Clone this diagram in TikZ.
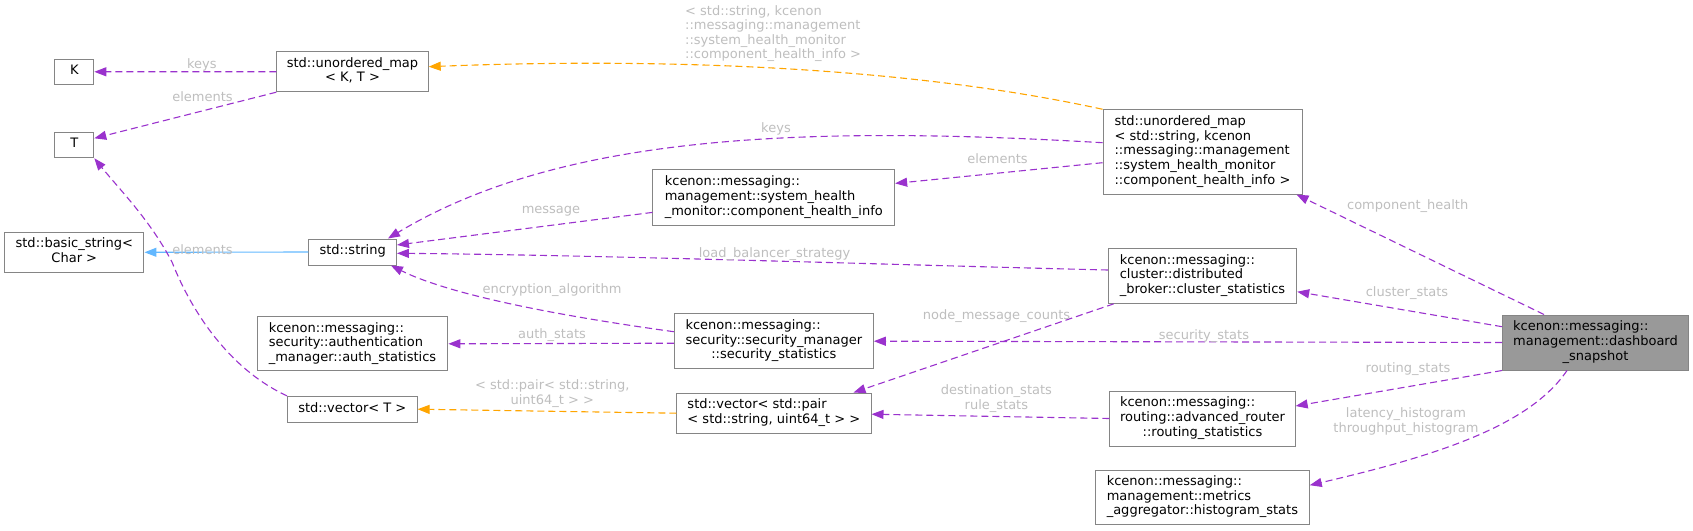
\documentclass[tikz,border=0pt]{standalone}
\usepackage{fontspec}
\setmainfont{DejaVu Sans}
\usetikzlibrary{arrows.meta,calc}
\definecolor{edgepurple}{HTML}{9A32CD}
\definecolor{edgeorange}{HTML}{FFA500}
\definecolor{edgeblue}{HTML}{63B8FF}
\definecolor{boxborder}{HTML}{858585}
\definecolor{lblgray}{HTML}{BEBEBE}
\definecolor{dashfill}{HTML}{999999}
\newcommand\lastline[1]{\multicolumn{1}{@{}c@{}}{#1}}
\newcommand\cls[1]{\begin{tabular}{@{}l@{}}#1\end{tabular}}
\begin{document}
\begin{tikzpicture}[x=1pt,y=-1pt,
  cbox/.style={draw=boxborder, line width=1pt, fill=white, inner sep=0pt,
    font=\fontsize{13}{14.7}\selectfont},
  edge/.style={draw=edgepurple, line width=1.1pt, dash pattern=on 7pt off 4pt,
    -{Triangle[length=12pt,width=9pt]}},
  oedge/.style={edge, draw=edgeorange},
  bedge/.style={draw=edgeblue, line width=1.1pt, solid, -{Triangle[length=12pt,width=9pt]}},
  lbl/.style={text=lblgray, inner sep=0pt, font=\fontsize{13}{14.5}\selectfont},
  slbl/.style={lbl, text height=9.5pt, text depth=0pt}]
\useasboundingbox (0,0) rectangle (1693,530);

% nodes
\node[cbox, minimum width=39pt, minimum height=25pt] (K) at (74.3,71.8) {\cls{K}};
\node[cbox, minimum width=39pt, minimum height=25.5pt] (T) at (74.3,145) {\cls{T}};
\node[cbox, minimum width=151.4pt, minimum height=40pt] (mapKT) at (352.5,71.7) {\cls{std::unordered\_map\\\lastline{< K, T >}}};
\node[cbox, minimum width=139.3pt, minimum height=40pt] (bstr) at (74.3,252.3) {\cls{std::basic\_string<\\\lastline{Char >}}};
\node[cbox, minimum width=87.5pt, minimum height=26pt] (str) at (352.7,252) {\cls{std::string}};
\node[cbox, minimum width=241.7pt, minimum height=55.3pt] (chi) at (773.8,197.4) {\cls{kcenon::messaging::\\management::system\_health\\\lastline{\_monitor::component\_health\_info}}};
\node[cbox, minimum width=199pt, minimum height=84.3pt] (bigmap) at (1202.5,151.9) {\cls{std::unordered\_map\\< std::string, kcenon\\::messaging::management\\::system\_health\_monitor\\\lastline{::component\_health\_info >}}};
\node[cbox, minimum width=188.4pt, minimum height=54.6pt] (cluster) at (1202.5,276) {\cls{kcenon::messaging::\\cluster::distributed\\\lastline{\_broker::cluster\_statistics}}};
\node[cbox, fill=dashfill, minimum width=186pt, minimum height=55pt] (dash) at (1595.5,342.5) {\cls{kcenon::messaging::\\management::dashboard\\\lastline{\_snapshot}}};
\node[cbox, minimum width=190.7pt, minimum height=54.3pt] (auth) at (352.5,343.8) {\cls{kcenon::messaging::\\security::authentication\\\lastline{\_manager::auth\_statistics}}};
\node[cbox, minimum width=199pt, minimum height=55pt] (sec) at (773.8,341.2) {\cls{kcenon::messaging::\\security::security\_manager\\\lastline{::security\_statistics}}};
\node[cbox, minimum width=129.6pt, minimum height=25.7pt] (vecT) at (352.3,409.2) {\cls{std::vector< T >}};
\node[cbox, minimum width=194.2pt, minimum height=40.3pt] (vecp) at (773.9,413.2) {\cls{std::vector< std::pair\\\lastline{< std::string, uint64\_t > >}}};
\node[cbox, minimum width=185.3pt, minimum height=55pt] (rout) at (1202.5,418.5) {\cls{kcenon::messaging::\\routing::advanced\_router\\\lastline{::routing\_statistics}}};
\node[cbox, minimum width=213.7pt, minimum height=54.3pt] (histo) at (1202.4,497.2) {\cls{kcenon::messaging::\\management::metrics\\\lastline{\_aggregator::histogram\_stats}}};

% edges
\draw[edge] (mapKT.west) -- (K.east);
\draw[edge] (mapKT.south west) -- ($(T.east)+(0,-6.7)$);
\draw[bedge] (str.west) -- (bstr.east);
\draw[edge] (vecT.north west) .. controls (235,372) and (195,320) .. (172,262)
  .. controls (150,220) and (120,190) .. (T.south east);
\draw[oedge] (bigmap.north west) .. controls (900,65) and (650,58) .. ($(mapKT.east)+(0,-5)$);
\draw[edge] ($(bigmap.west)+(0,-9.2)$) .. controls (800,125) and (560,135) .. ($(str.north east)+(-9,0)$);
\draw[edge] ($(bigmap.west)+(0,10.8)$) -- ($(chi.east)+(0,-14)$);
\draw[edge] ($(chi.west)+(0,15)$) -- ($(str.east)+(0,-7)$);
\draw[edge] ($(cluster.west)+(0,-6)$) .. controls (900,265) and (600,255) .. ($(str.east)+(0,1.3)$);
\draw[edge] ($(sec.west)+(0,-9.5)$) .. controls (560,316) and (450,295) .. ($(str.south east)+(-6,0)$);
\draw[edge] ($(sec.west)+(0,2)$) -- (auth.east);
\draw[edge] (dash.west) -- (sec.east);
\draw[oedge] (vecp.west) -- (vecT.east);
\draw[edge] ($(cluster.south west)+(6,0)$) -- ($(vecp.north east)+(-18,0)$);
\draw[edge] (rout.west) -- ($(vecp.east)+(0,1)$);
\draw[edge] ($(dash.north west)+(42,0)$) -- ($(bigmap.south east)+(-6,0)$);
\draw[edge] ($(dash.west)+(0,-15.8)$) -- ($(cluster.east)+(0,15.7)$);
\draw[edge] (dash.south west) -- ($(rout.east)+(0,-12.5)$);
\draw[edge] ($(dash.south west)+(65,0)$) .. controls (1530,425) and (1440,455) .. ($(histo.east)+(0,-12)$);

% labels
\node[slbl] (l1) at (201.8,63.3) {keys};
\node[slbl] (l2) at (202.5,96.7) {elements};
\node[slbl] (l3) at (202.5,250) {elements};
\node[lbl, anchor=west, align=left] (l4) at (685,33.4) {< std::string, kcenon\\::messaging::management\\::system\_health\_monitor\\::component\_health\_info >};
\node[slbl] (l5) at (776,127.3) {keys};
\node[slbl] (l6) at (997.5,158.3) {elements};
\node[slbl] (l7) at (551,209) {message};
\node[slbl] (l8) at (774.6,252.3) {load\_balancer\_strategy};
\node[slbl] (l9) at (552,289) {encryption\_algorithm};
\node[slbl] (l10) at (552,334) {auth\_stats};
\node[slbl] (l11) at (1204,335) {security\_stats};
\node[lbl, align=center] (l12) at (552.3,393.7) {< std::pair< std::string,\\uint64\_t > >};
\node[slbl] (l13) at (996.5,314.3) {node\_message\_counts};
\node[lbl, align=center] (l14) at (996.4,398.8) {destination\_stats\\rule\_stats};
\node[slbl] (l15) at (1407.7,205) {component\_health};
\node[slbl] (l16) at (1407,291.7) {cluster\_stats};
\node[slbl] (l17) at (1408,367.7) {routing\_stats};
\node[lbl, align=center] (l18) at (1406,421.7) {latency\_histogram\\throughput\_histogram};
\end{tikzpicture}
\end{document}
